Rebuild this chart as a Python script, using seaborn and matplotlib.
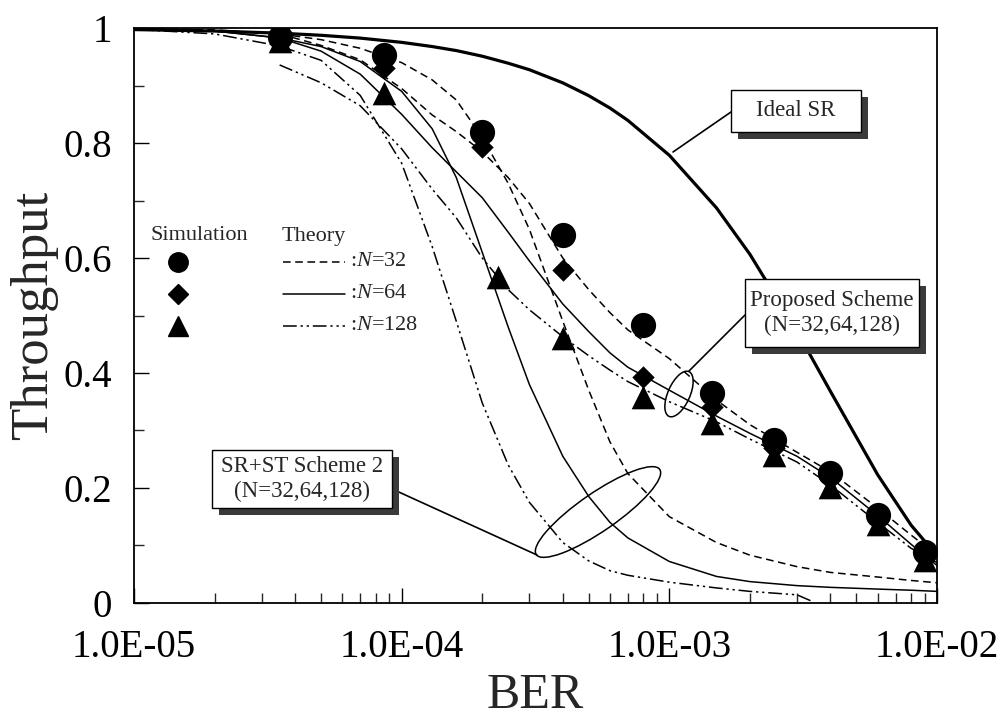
import numpy as np
import pandas as pd
import matplotlib
matplotlib.use("Agg")
import matplotlib.pyplot as plt
import seaborn as sns
from matplotlib.patches import Ellipse, Rectangle
from matplotlib.lines import Line2D
from matplotlib.transforms import IdentityTransform
from matplotlib.ticker import MultipleLocator, LogLocator, NullFormatter

# ---------------- data ----------------
ber_grid = [1e-5, 2e-5, 3.5e-5, 5e-5, 7e-5, 1e-4, 1.3e-4, 1.6e-4, 2e-4, 2.5e-4, 3e-4,
            4e-4, 5e-4, 6e-4, 7e-4, 1e-3, 1.5e-3, 2e-3, 3e-3, 4e-3, 6e-3, 8e-3, 1e-2]

ideal_sr = [0.9975, 0.995, 0.9913, 0.9876, 0.9827, 0.9753, 0.968, 0.961, 0.9512, 0.939, 0.9277,
            0.9048, 0.8825, 0.861, 0.8395, 0.7788, 0.6873, 0.6065, 0.4724, 0.3679, 0.2231, 0.1353, 0.0821]

prop_32 = [0.999, 0.996, 0.99, 0.97, 0.945, 0.895, 0.849, 0.82, 0.785, 0.74, 0.695,
           0.6, 0.545, 0.505, 0.475, 0.425, 0.353, 0.31, 0.262, 0.228, 0.165, 0.118, 0.083]
prop_64 = [0.999, 0.995, 0.983, 0.96, 0.92, 0.85, 0.792, 0.75, 0.705, 0.645, 0.595,
           0.52, 0.472, 0.435, 0.41, 0.37, 0.325, 0.295, 0.255, 0.218, 0.152, 0.102, 0.065]
ber_prop_128 = [3.5e-5, 5e-5, 7e-5, 1e-4, 1.3e-4, 1.6e-4, 2e-4, 2.5e-4, 3e-4,
                4e-4, 5e-4, 6e-4, 7e-4, 1e-3, 1.5e-3, 2e-3, 3e-3, 4e-3, 6e-3, 8e-3, 1e-2]
prop_128 = [0.936, 0.905, 0.865, 0.79, 0.72, 0.67, 0.6, 0.545, 0.51,
            0.463, 0.43, 0.405, 0.385, 0.35, 0.315, 0.285, 0.245, 0.205, 0.14, 0.095, 0.07]

srst_32 = [0.999, 0.997, 0.99, 0.98, 0.965, 0.94, 0.91, 0.875, 0.81, 0.73, 0.65,
           0.49, 0.37, 0.28, 0.225, 0.15, 0.105, 0.083, 0.063, 0.053, 0.045, 0.039, 0.035]
srst_64 = [0.999, 0.995, 0.983, 0.968, 0.942, 0.89, 0.825, 0.74, 0.61, 0.48, 0.38,
           0.255, 0.185, 0.14, 0.113, 0.072, 0.046, 0.037, 0.03, 0.027, 0.024, 0.022, 0.02]
ber_srst_128 = [1e-5, 2e-5, 3.5e-5, 5e-5, 7e-5, 1e-4, 1.3e-4, 1.6e-4, 2e-4, 2.5e-4, 3e-4,
                4e-4, 5e-4, 6e-4, 7e-4, 1e-3, 1.5e-3, 2e-3, 3e-3, 3.4e-3]
srst_128 = [0.998, 0.99, 0.969, 0.944, 0.883, 0.765, 0.62, 0.49, 0.348, 0.24, 0.175,
            0.105, 0.073, 0.056, 0.048, 0.036, 0.026, 0.02, 0.014, 0.003]

ber_sim = [3.5e-5, 8.6e-5, 2e-4, 4e-4, 8e-4, 1.44e-3, 2.47e-3, 4e-3, 6e-3, 9e-3]
ber_sim_128 = [3.5e-5, 8.6e-5, 2.3e-4, 4e-4, 8e-4, 1.44e-3, 2.47e-3, 4e-3, 6e-3, 9e-3]
sim_32 = [0.985, 0.953, 0.819, 0.640, 0.483, 0.365, 0.283, 0.226, 0.153, 0.089]
sim_64 = [0.985, 0.930, 0.793, 0.579, 0.393, 0.340, 0.270, 0.215, 0.145, 0.082]
sim_128 = [0.978, 0.887, 0.567, 0.461, 0.358, 0.313, 0.257, 0.202, 0.137, 0.075]

x_ticks = [1e-5, 1e-4, 1e-3, 1e-2]
x_tick_labels = ["1.0E-05", "1.0E-04", "1.0E-03", "1.0E-02"]
y_ticks = [0, 0.2, 0.4, 0.6, 0.8, 1.0]
y_tick_labels = ["0", "0.2", "0.4", "0.6", "0.8", "1"]

# ---------------- style ----------------
sns.set_style("ticks")
plt.rcParams["font.family"] = ["Liberation Serif", "DejaVu Serif"]
plt.rcParams["mathtext.fontset"] = "custom"
plt.rcParams["mathtext.it"] = "Liberation Serif:italic"
plt.rcParams["mathtext.rm"] = "Liberation Serif"

fig = plt.figure(figsize=(10, 7.22), dpi=100)
ax = fig.add_axes([0.134, 0.165, 0.803, 0.796])
ax.set_xscale("log")

DASH = (0, (5, 3))
SOLID = "-"
DASHDOT = (0, (9, 2.5, 1.5, 2.5, 1.5, 2.5))

def theory(x, y, ls, lw=1.1):
    df = pd.DataFrame({"BER": x, "Throughput": y})
    sns.lineplot(data=df, x="BER", y="Throughput", ax=ax, color="black",
                 linestyle=ls, linewidth=lw, estimator=None, sort=False, legend=False)

theory(ber_grid, ideal_sr, SOLID, lw=2.3)
theory(ber_grid, prop_32, DASH)
theory(ber_grid, prop_64, SOLID)
theory(ber_prop_128, prop_128, DASHDOT)
theory(ber_grid, srst_32, DASH)
theory(ber_grid, srst_64, SOLID)
theory(ber_srst_128, srst_128, DASHDOT)

sns.scatterplot(x=ber_sim, y=sim_32, ax=ax, marker="o", s=330, color="black", linewidth=0, zorder=5)
sns.scatterplot(x=ber_sim, y=sim_64, ax=ax, marker="D", s=130, color="black", linewidth=0, zorder=5)
sns.scatterplot(x=ber_sim_128, y=sim_128, ax=ax, marker="^", s=290, color="black", linewidth=0, zorder=5)

ax.set_xlim(1e-5, 1e-2)
ax.set_ylim(0, 1)
ax.set_xticks(x_ticks, labels=x_tick_labels)
ax.xaxis.set_minor_locator(LogLocator(base=10, subs=np.arange(2, 10)))
ax.xaxis.set_minor_formatter(NullFormatter())
ax.set_yticks(y_ticks, labels=y_tick_labels)
ax.yaxis.set_minor_locator(MultipleLocator(0.1))
ax.tick_params(axis="both", which="major", direction="in", length=11, width=1.0,
               labelsize=28, colors="black")
ax.tick_params(axis="both", which="minor", direction="in", length=7, width=1.0)
ax.tick_params(axis="y", which="major", pad=16)
ax.tick_params(axis="x", which="major", pad=19)
for sp in ax.spines.values():
    sp.set_visible(True)
    sp.set_linewidth(1.3)
    sp.set_color("black")

ax.set_xlabel("BER", fontsize=36)
ax.set_ylabel("Throughput", fontsize=38)
ax.xaxis.set_label_coords(0.5, -0.122)
ax.yaxis.set_label_coords(-0.094, 0.5)

H = 722
T = IdentityTransform()

def px(x, y):
    return x, H - y

# legend
fig.text(*px(199, 236), "Simulation", transform=T, fontsize=16, ha="center", va="center")
fig.text(*px(314, 236), "Theory", transform=T, fontsize=16, ha="center", va="center")
leg_y = [262, 294, 326]
leg_markers = [("o", 14), ("D", 10), ("^", 14)]
leg_ls = [DASH, SOLID, DASHDOT]
leg_txt = [":$N$=32", ":$N$=64", ":$N$=128"]
for yy, (m, ms), ls, t in zip(leg_y, leg_markers, leg_ls, leg_txt):
    fig.add_artist(Line2D([px(178, yy)[0]], [px(178, yy)[1]], marker=m, markersize=ms,
                          color="black", linestyle="none", transform=T))
    fig.add_artist(Line2D([283, 345], [H - yy, H - yy], color="black", linestyle=ls,
                          linewidth=1.1, transform=T))
    fig.text(*px(350, yy), t, transform=T, fontsize=16, ha="left", va="center")

# annotation boxes with shadow
def box(x0, y0, x1, y1, lines, fs=16.5):
    sh = 7
    fig.add_artist(Rectangle((x0 + sh, H - y1 - sh), x1 - x0, y1 - y0, transform=T,
                             facecolor="#3a3a3a", edgecolor="none", zorder=3))
    fig.add_artist(Rectangle((x0, H - y1), x1 - x0, y1 - y0, transform=T,
                             facecolor="white", edgecolor="black", linewidth=1.0, zorder=4))
    fig.text((x0 + x1) / 2, H - (y0 + y1) / 2, lines, transform=T, fontsize=fs,
             ha="center", va="center", linespacing=1.25, zorder=5)

def lead(x0, y0, x1, y1):
    fig.add_artist(Line2D([x0, x1], [H - y0, H - y1], color="black", linewidth=1.2,
                          transform=T, zorder=2))

lead(731, 112, 673, 152)
box(731, 90, 861, 132, "Ideal SR")

lead(745, 315, 689, 371)
fig.add_artist(Ellipse((679, H - 394), 49, 22, angle=66, transform=T, fill=False,
                       edgecolor="black", linewidth=1.1, zorder=2))
box(745, 279, 919, 347, "Proposed Scheme\n(N=32,64,128)")

lead(390, 488, 537, 555)
fig.add_artist(Ellipse((598, H - 512), 150, 38, angle=34.6, transform=T, fill=False,
                       edgecolor="black", linewidth=1.1, zorder=2))
box(212, 450, 392, 508, "SR+ST Scheme 2\n(N=32,64,128)")

fig.savefig("out.png", dpi=100, facecolor="white")
